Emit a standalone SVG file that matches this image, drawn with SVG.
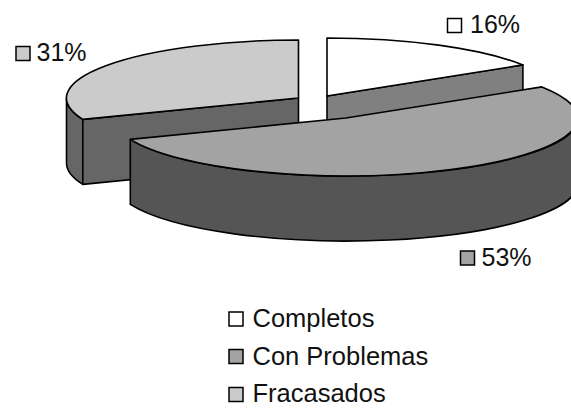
<svg xmlns="http://www.w3.org/2000/svg" width="571" height="408" viewBox="0 0 571 408">
  <style>
    .edge { stroke: #000; stroke-width: 1.6; stroke-linejoin: round; }
    .lbl { font-family: "Liberation Sans", Arial, sans-serif; font-size: 25px; fill: #111; }
    .leg { font-size: 25.5px; }
    .key { stroke: #000; stroke-width: 1.5; }
    .c-top { fill: #ffffff; }
    .c-side { fill: #808080; }
    .p-top { fill: #a3a3a3; }
    .p-side { fill: #555555; }
    .f-top { fill: #cbcbcb; }
    .f-side { fill: #666666; }
  </style>
  <rect width="571" height="408" fill="#fff"/>

  <!-- Fracasados slice (31%), pulled out to the back left -->
  <g id="slice-fracasados">
    <path class="f-side edge" d="M66.5,98 A232,58 0 0 0 82.8,119.4 L82.8,184.4 A232,58 0 0 1 66.5,163 Z"/>
    <path class="f-side edge" d="M298.5,98 L82.8,119.4 L82.8,184.4 L298.5,163 Z"/>
    <path class="f-top edge" d="M298.5,98 L298.5,40 A232,58 0 0 0 82.8,119.4 Z"/>
  </g>

  <!-- Completos slice (16%), pulled out to the back right -->
  <g id="slice-completos">
    <path class="c-side edge" d="M327,96 L522.9,64.9 L522.9,129.9 L327,161 Z"/>
    <path class="c-top edge" d="M327,96 L327,38 A232,58 0 0 1 522.9,64.9 Z"/>
  </g>

  <!-- Con Problemas slice (53%), in front -->
  <g id="slice-con-problemas">
    <path class="p-side edge" d="M578,118 A232,58 0 0 1 130.3,139.4 L130.3,204.4 A232,58 0 0 0 578,183 Z"/>
    <path class="p-top edge" d="M346,118 L541.9,86.9 A232,58 0 1 1 130.3,139.4 Z"/>
  </g>

  <!-- percentage labels -->
  <g id="label-16">
    <rect class="key c-top" x="447.5" y="18.5" width="14" height="14"/>
    <text class="lbl" x="470" y="33">16%</text>
  </g>
  <g id="label-31">
    <rect class="key f-top" x="16" y="46.5" width="14" height="14"/>
    <text class="lbl" x="36.5" y="61">31%</text>
  </g>
  <g id="label-53">
    <rect class="key p-top" x="460.5" y="251" width="14" height="14"/>
    <text class="lbl" x="481.5" y="266">53%</text>
  </g>

  <!-- legend -->
  <g id="legend">
    <g id="legend-completos">
      <rect class="key c-top" x="229" y="312" width="14" height="14"/>
      <text class="lbl leg" x="252.5" y="327">Completos</text>
    </g>
    <g id="legend-con-problemas">
      <rect class="key p-top" x="229" y="349.5" width="14" height="14"/>
      <text class="lbl leg" x="252.5" y="364.5">Con Problemas</text>
    </g>
    <g id="legend-fracasados">
      <rect class="key f-top" x="229" y="387.5" width="14" height="14"/>
      <text class="lbl leg" x="252.5" y="402">Fracasados</text>
    </g>
  </g>
</svg>
